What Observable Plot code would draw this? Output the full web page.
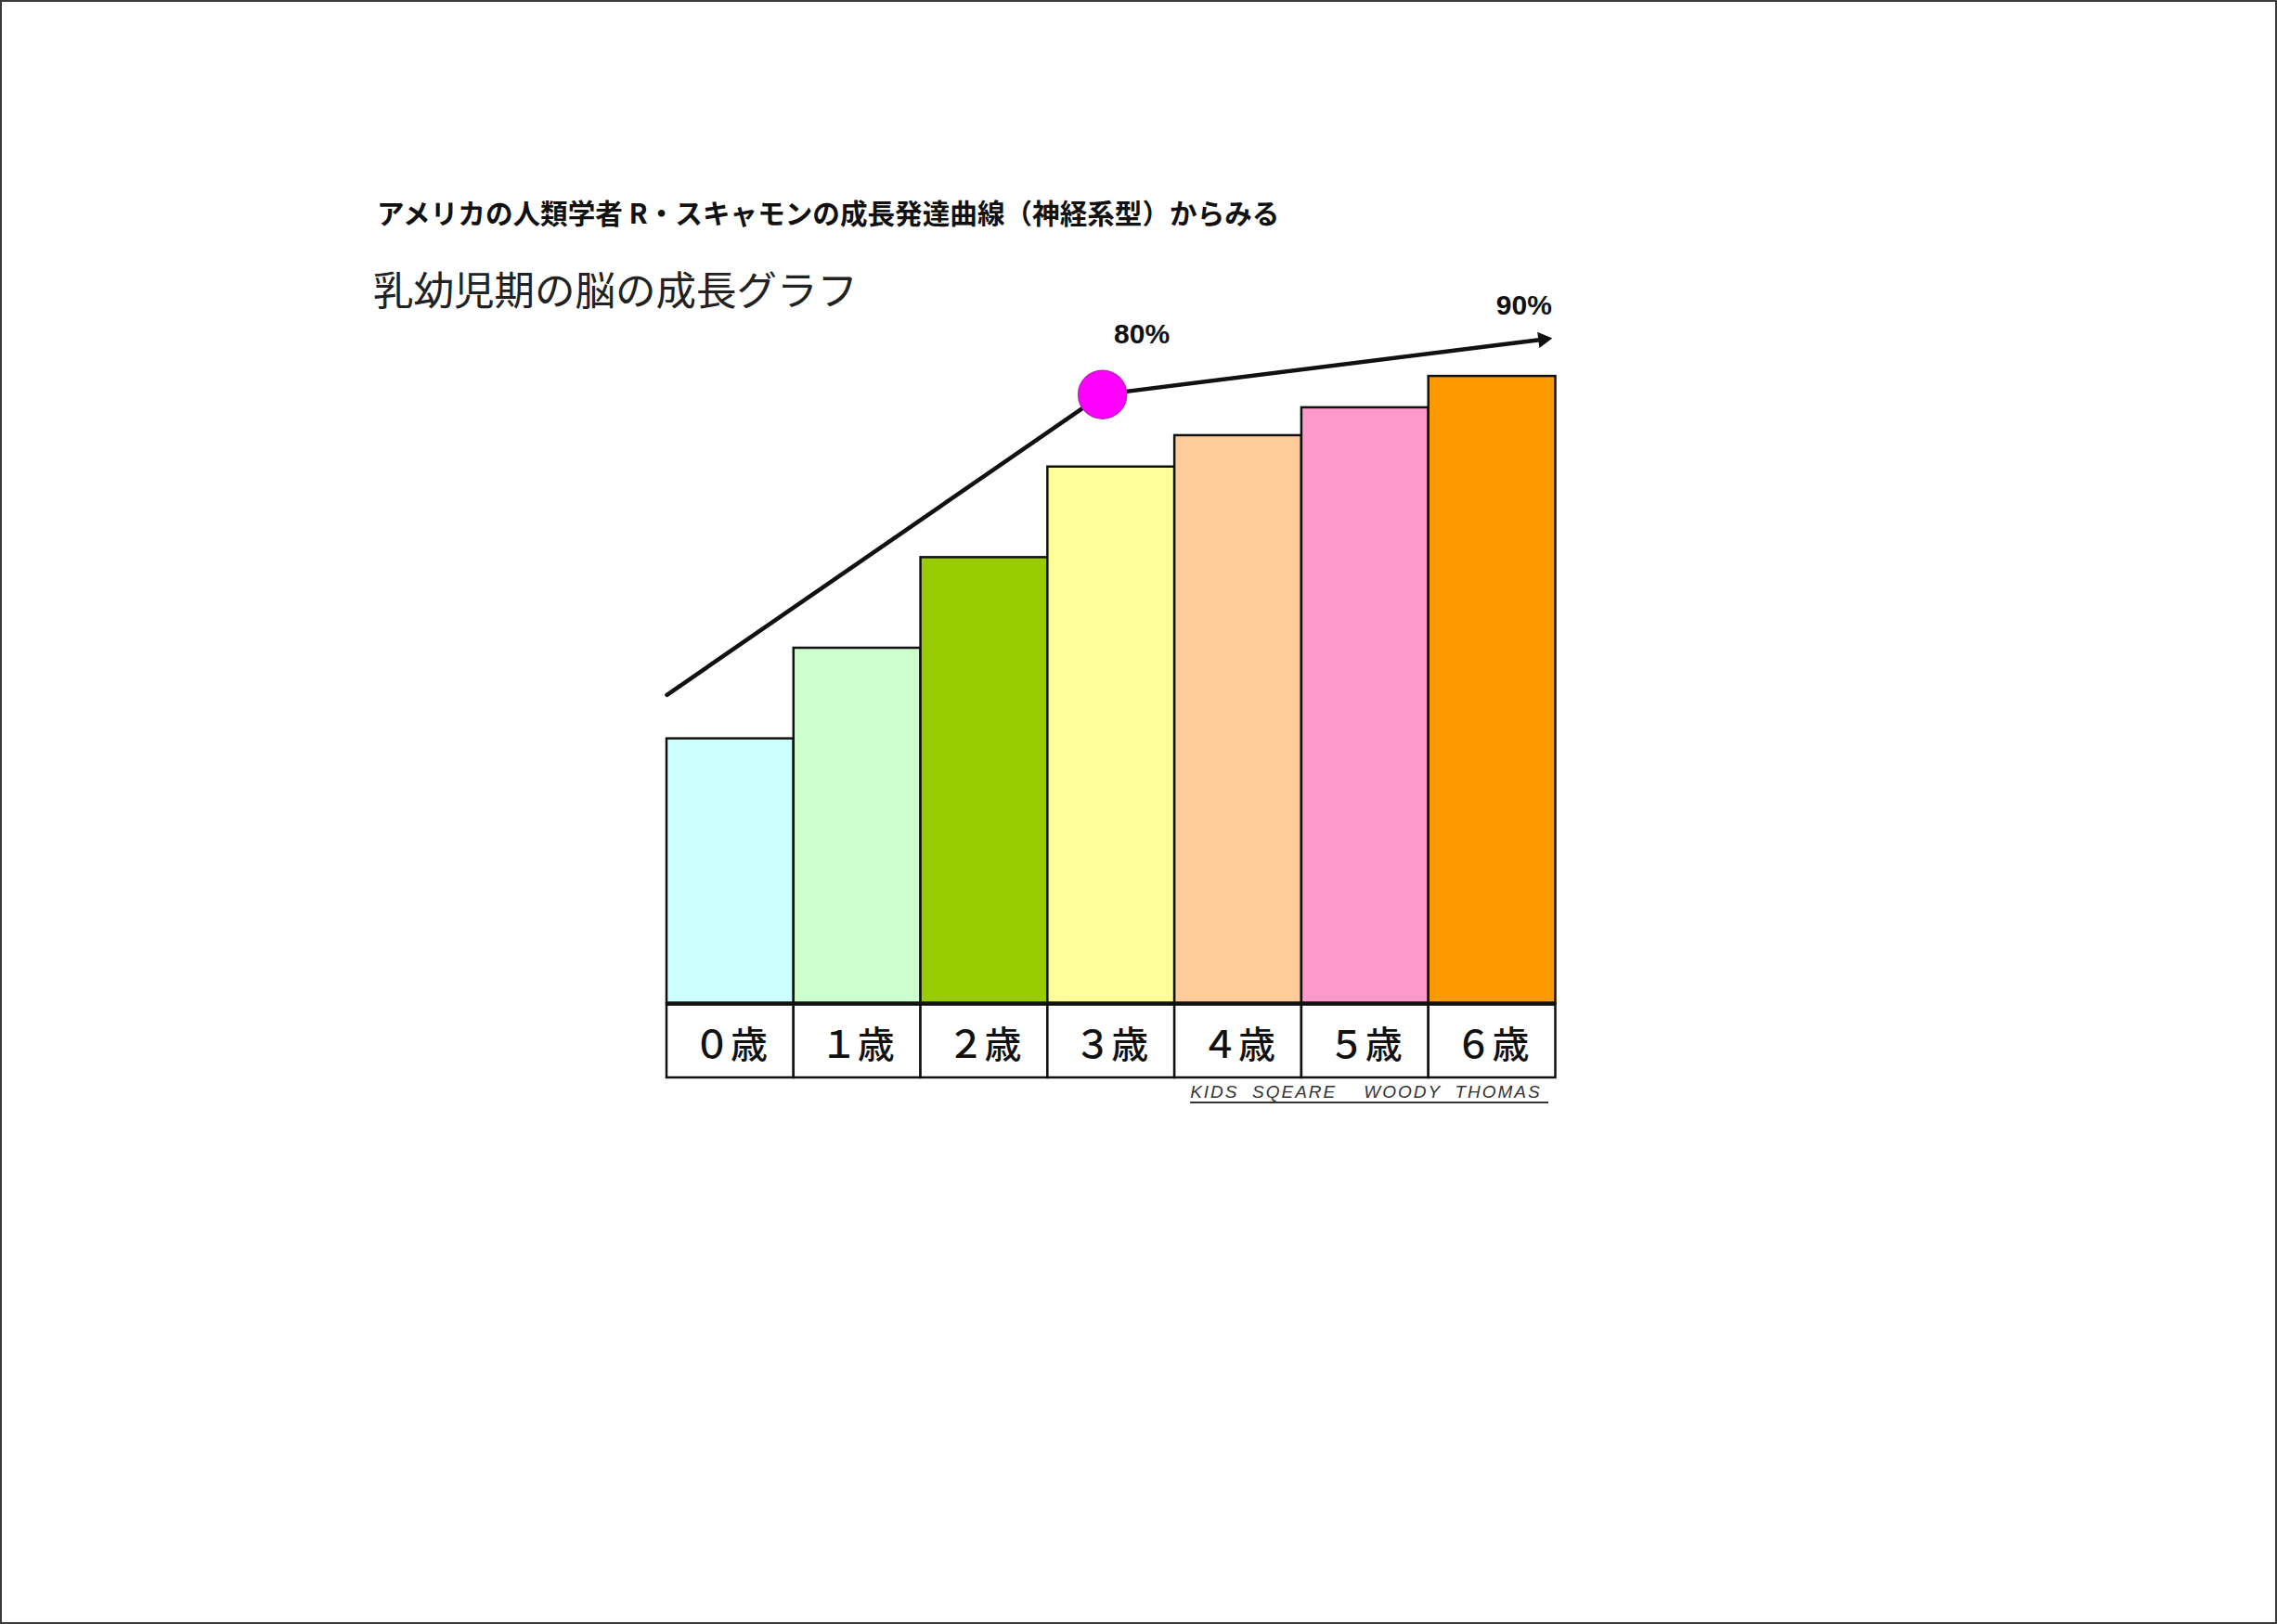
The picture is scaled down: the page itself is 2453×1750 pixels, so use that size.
<!DOCTYPE html>
<html>
<head>
<meta charset="utf-8">
<script src="https://cdn.jsdelivr.net/npm/d3@7"></script>
<script src="https://cdn.jsdelivr.net/npm/@observablehq/plot@0.6"></script>
<style>
  html, body { margin: 0; padding: 0; background: #fff; }
  #wrap { position: relative; width: 2453px; height: 1750px; overflow: hidden; background: #fff; }
  #wrap svg { position: absolute; left: 0; top: 0; }
  #frame { position: absolute; left: 0; top: 0; right: 0; bottom: 0; border: 2px solid #3a3a3a; pointer-events: none; }
  .sub { position: absolute; left: 406px; top: 214px; font-family: "Noto Sans CJK JP", sans-serif; font-weight: 700; font-size: 29.6px; line-height: 1; color: #111; white-space: pre; }
  .title { position: absolute; left: 402px; top: 289px; font-family: "Noto Sans CJK JP", sans-serif; font-weight: 400; font-size: 43.5px; line-height: 1; color: #222; white-space: pre; }
  .cap { position: absolute; right: 785px; top: 1167px; font-family: "Liberation Sans", Arial, sans-serif; font-style: italic; font-size: 19px; line-height: 1.1; color: #333; letter-spacing: 2px; text-decoration: underline; text-decoration-thickness: 2px; text-underline-offset: 4px; white-space: pre; }
</style>
</head>
<body>
<div id="wrap">
  <div class="sub">アメリカの人類学者 R・スキャモンの成長発達曲線（神経系型）からみる</div>
  <div class="title">乳幼児期の脳の成長グラフ</div>
  <div class="cap">KIDS  SQEARE    WOODY  THOMAS </div>
  <div id="frame"></div>
</div>
<script>
// ---- data ----
const ages = ["０歳", "１歳", "２歳", "３歳", "４歳", "５歳", "６歳"];
const growth = [38, 51, 64, 77, 81.5, 85.5, 90];
const barColors = ["#CCFFFF", "#CCFFCC", "#99CC00", "#FFFF99", "#FFCC99", "#FF99CC", "#FF9900"];
const curveX = [0, 3.43, 6.9];
const curveY = [44.3, 87.4, 95.3];
const pctLabels = ["80%", "90%"];
const pctX = [3.74, 6.75];
const pctY = [96.0, 100.2];
const labelRowDepth = 10.65;

const bars = ages.map((a, i) => ({age: a, i, v: growth[i], c: barColors[i]}));
const curve = curveX.map((x, i) => ({x, y: curveY[i]}));
const pcts = pctLabels.map((t, i) => ({t, x: pctX[i], y: pctY[i]}));

const W = 2453, H = 1750;
const chart = Plot.plot({
  width: W,
  height: H,
  marginLeft: 718,
  marginRight: W - 1675.5,
  marginTop: 330,
  marginBottom: H - 1161,
  x: {type: "linear", domain: [0, 7], axis: null},
  y: {type: "linear", domain: [-labelRowDepth, 100], axis: null},
  style: {background: "transparent", overflow: "visible"},
  marks: [
    // bars
    Plot.rect(bars, {x1: d => d.i, x2: d => d.i + 1, y1: 0, y2: "v", fill: d => d.c, stroke: "#111", strokeWidth: 2.5}),
    // label row cells
    Plot.rect(bars, {x1: d => d.i, x2: d => d.i + 1, y1: -labelRowDepth, y2: 0, fill: "#fff", stroke: "#111", strokeWidth: 2.5}),
    Plot.ruleY([0], {stroke: "#111", strokeWidth: 4.5}),
    Plot.text(bars, {x: d => d.i + 0.5, y: -labelRowDepth / 2 - 0.7, text: "age", fontSize: 40, fontFamily: "Noto Sans CJK JP, sans-serif", fontWeight: 500, fill: "#111", textAnchor: "middle", lineAnchor: "middle"}),
    // growth curve
    Plot.line(curve, {x: "x", y: "y", stroke: "#111", strokeWidth: 4.5, curve: "linear"}),
    Plot.dot([curve[curve.length - 1]], {x: "x", y: "y", symbol: "triangle", r: 6.5, fill: "#111", stroke: "none", rotate: 83}),
    Plot.dot([curve[1]], {x: "x", y: "y", r: 26, fill: "#FF00FF", stroke: "#c020c0", strokeWidth: 1.5}),
    // percentage annotations
    Plot.text(pcts, {x: "x", y: "y", text: "t", fontSize: 30, fontWeight: "bold", fontFamily: "Liberation Sans Narrow, Liberation Sans, Arial, sans-serif", fill: "#111", textAnchor: "middle", lineAnchor: "middle", transform: null})
  ]
});
document.getElementById("wrap").insertBefore(chart, document.getElementById("wrap").firstChild);
</script>
</body>
</html>
